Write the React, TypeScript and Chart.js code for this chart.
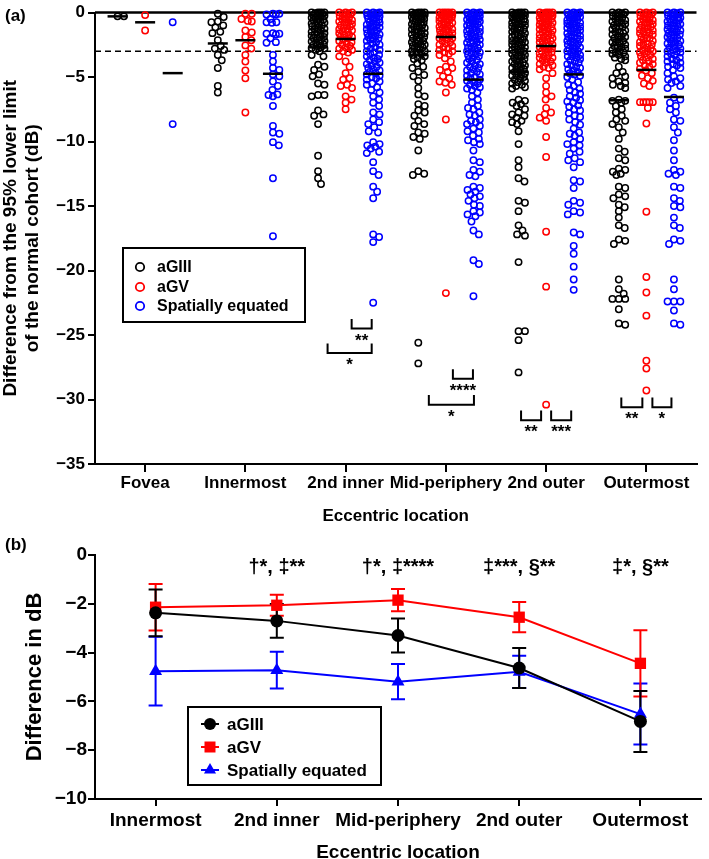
import { useEffect, useRef } from 'react';
import { Chart, registerables } from 'chart.js';
Chart.register(...registerables);

const FONT = '"Liberation Sans", Arial, Helvetica, sans-serif';
const BLACK = '#000000';
const RED = '#ff0000';
const BLUE = '#0000ff';

// ---------- Panel (a) data ----------
const categoriesA = ['Fovea', 'Innermost', '2nd inner', 'Mid-periphery', '2nd outer', 'Outermost'];
const seriesNames = ['aGIII', 'aGV', 'Spatially equated'];

const aGIII_fovea = [-0.3, -0.3];
const aGV_fovea = [-0.2, -1.4];
const se_fovea = [-0.75, -8.65];

const aGIII_innermost = [-0.1, -0.35, -0.7, -0.75, -1.0, -1.15, -1.5, -1.6, -2.15, -2.6, -2.8, -2.9, -3.3, -3.7, -4.3, -5.7, -6.2];
const aGV_innermost = [-0.1, -0.1, -0.5, -0.65, -0.7, -1.4, -1.55, -1.9, -2.15, -2.55, -2.8, -3.3, -3.8, -4.5, -5.1, -7.75];
const se_innermost = [-0.1, -0.1, -0.15, -0.15, -0.5, -0.75, -0.75, -0.8, -1.6, -1.65, -1.65, -1.7, -2.0, -2.3, -2.35, -3.3, -3.8, -4.3, -4.45, -4.8, -4.95, -5.35, -5.7, -6.0, -6.35, -6.4, -6.5, -7.25, -8.8, -9.3, -9.4, -10.05, -10.3, -12.85, -17.35];

const aGIII_inner2 = [0, 0, 0, 0, -0.05, -0.1, -0.1, -0.2, -0.2, -0.25, -0.3, -0.4, -0.4, -0.5, -0.55, -0.6, -0.7, -0.7, -0.8, -0.85, -0.9, -1.0, -1.0, -1.1, -1.2, -1.25, -1.3, -1.4, -1.5, -1.5, -1.6, -1.7, -1.75, -1.8, -1.9, -2.0, -2.0, -2.1, -2.2, -2.25, -2.3, -2.4, -2.5, -2.5, -2.6, -2.7, -2.75, -2.8, -2.9, -3.0,
  -3.3, -3.4, -4.05, -4.2, -4.45, -4.8, -4.95, -5.5, -5.6, -6.4, -6.4, -6.5, -7.6, -7.9, -8.0, -8.65, -11.1, -12.3, -12.85, -13.3];
const aGV_inner2 = [0, 0, 0, -0.05, -0.1, -0.15, -0.2, -0.3, -0.3, -0.4, -0.5, -0.5, -0.6, -0.7, -0.75, -0.8, -0.9, -1.0, -1.0, -1.1, -1.2, -1.3, -1.35, -1.4, -1.5, -1.6, -1.7, -1.8, -1.85, -1.9, -2.0, -2.1, -2.2, -2.3, -2.4, -2.5, -2.6, -2.7, -2.8, -2.9, -3.0, -3.1,
  -3.4, -3.8, -4.2, -4.7, -5.1, -5.2, -5.6, -5.7, -5.85, -6.5, -6.75, -7.0, -7.5];
const se_inner2 = [0, 0, 0, -0.05, -0.1, -0.1, -0.2, -0.25, -0.3, -0.35, -0.4, -0.5, -0.55, -0.6, -0.7, -0.75, -0.8, -0.9, -0.95, -1.0, -1.1, -1.15, -1.2, -1.3, -1.4, -1.45, -1.5, -1.6, -1.7, -1.75, -1.8, -1.9, -2.0, -2.05, -2.1, -2.2, -2.3, -2.4, -2.5, -2.6, -2.7, -2.8, -2.9, -3.0, -3.1, -3.2, -3.3, -3.4, -3.5, -3.6, -3.7, -3.8, -3.9, -4.0, -4.1, -4.2, -4.3, -4.4, -4.5, -4.6, -4.7, -4.8, -4.9, -5.0, -5.1, -5.2, -5.35, -5.5, -5.6, -5.8, -6.0, -6.2,
  -6.5, -6.75, -7.0, -7.25, -7.75, -7.9, -8.3, -8.5, -8.65, -8.9, -9.2, -9.3, -10.05, -10.2, -10.3, -10.4, -10.55, -10.8, -10.9, -11.6, -12.3, -12.6, -13.5, -13.9, -14.4, -17.2, -17.4, -17.8, -22.5];

const aGIII_mid = [0, 0, 0, 0, -0.05, -0.1, -0.1, -0.15, -0.2, -0.2, -0.3, -0.3, -0.35, -0.4, -0.5, -0.5, -0.55, -0.6, -0.7, -0.7, -0.8, -0.8, -0.9, -1.0, -1.0, -1.1, -1.15, -1.2, -1.3, -1.3, -1.4, -1.5, -1.5, -1.6, -1.7, -1.7, -1.8, -1.9, -2.0, -2.0, -2.1, -2.2, -2.2, -2.3, -2.4, -2.5, -2.5, -2.6, -2.7, -2.7, -2.8, -2.9, -3.0, -3.0, -3.1, -3.2, -3.3, -3.4, -3.5, -3.6, -3.7,
  -3.95, -4.2, -4.3, -4.6, -4.85, -4.95, -5.3, -5.85, -6.35, -6.5, -7.1, -7.25, -7.6, -7.75, -8.0, -8.4, -8.65, -8.8, -9.3, -9.4, -9.65, -9.8, -10.7, -12.3, -12.5, -12.6, -25.6, -27.2];
const aGV_mid = [0, 0, 0, 0, 0, -0.05, -0.1, -0.1, -0.15, -0.2, -0.25, -0.3, -0.3, -0.4, -0.4, -0.5, -0.5, -0.6, -0.65, -0.7, -0.8, -0.8, -0.9, -0.95, -1.0, -1.1, -1.1, -1.2, -1.3, -1.3, -1.4, -1.5, -1.5, -1.6, -1.7, -1.75, -1.8, -1.9, -2.0, -2.0, -2.1, -2.2, -2.3, -2.4, -2.5, -2.6, -2.7, -2.8, -2.9, -3.0, -3.1, -3.2, -3.3,
  -3.55, -3.8, -4.2, -4.3, -4.45, -4.6, -4.95, -5.1, -5.35, -5.45, -5.6, -6.2, -8.3, -21.75];
const se_mid = [0, 0, 0, -0.05, -0.1, -0.1, -0.15, -0.2, -0.25, -0.3, -0.3, -0.4, -0.45, -0.5, -0.55, -0.6, -0.7, -0.7, -0.8, -0.85, -0.9, -1.0, -1.0, -1.1, -1.2, -1.25, -1.3, -1.4, -1.45, -1.5, -1.6, -1.7, -1.75, -1.8, -1.9, -2.0, -2.05, -2.1, -2.2, -2.3, -2.35, -2.4, -2.5, -2.6, -2.7, -2.75, -2.8, -2.9, -3.0, -3.1, -3.15, -3.2, -3.3, -3.4, -3.5, -3.6, -3.7, -3.8, -3.9, -4.0, -4.1, -4.2, -4.3, -4.4, -4.5, -4.6, -4.7, -4.8, -4.9, -5.0, -5.1, -5.2, -5.3, -5.4, -5.5, -5.6, -5.7, -5.8, -5.9, -6.0,
  -6.2, -6.5, -6.75, -7.0, -7.25, -7.4, -7.5, -7.75, -7.9, -8.0, -8.3, -8.4, -8.5, -8.65, -8.8, -9.0, -9.2, -9.3, -9.55, -9.8, -9.9, -10.05, -10.2,
  -10.7, -11.45, -11.6, -12.2, -12.35, -12.6, -12.7, -13.5, -13.6, -13.75, -13.9, -14.1, -14.25, -14.4, -14.6, -14.9, -15.0, -15.4, -15.5, -15.65, -15.8, -16.2, -16.9, -17.2, -19.2, -19.5, -22.0];

const aGIII_outer2 = [0, 0, 0, 0, -0.05, -0.1, -0.1, -0.15, -0.2, -0.25, -0.3, -0.3, -0.35, -0.4, -0.5, -0.5, -0.55, -0.6, -0.7, -0.7, -0.75, -0.8, -0.9, -0.9, -1.0, -1.0, -1.1, -1.15, -1.2, -1.3, -1.3, -1.4, -1.5, -1.5, -1.6, -1.7, -1.7, -1.8, -1.9, -1.9, -2.0, -2.1, -2.1, -2.2, -2.3, -2.3, -2.4, -2.5, -2.5, -2.6, -2.7, -2.7, -2.8, -2.9, -2.9, -3.0, -3.1, -3.1, -3.2, -3.3, -3.4, -3.4, -3.5, -3.6, -3.7, -3.7, -3.8, -3.9, -4.0, -4.0, -4.1, -4.2, -4.3, -4.3, -4.4, -4.5, -4.6, -4.6, -4.7, -4.8, -4.9, -4.9, -5.0, -5.1, -5.2, -5.3, -5.4, -5.5, -5.6, -5.7, -5.8, -5.9,
  -6.75, -6.85, -7.0, -7.1, -7.25, -7.5, -7.75, -7.9, -8.0, -8.15, -8.4, -8.5, -8.65, -9.2, -10.2, -11.45, -12.0, -12.85, -13.1, -14.6, -14.75, -15.4, -16.5, -16.9, -17.2, -17.3, -19.35, -24.7, -24.7, -25.4, -27.9];
const aGV_outer2 = [0, 0, 0, 0, -0.05, -0.1, -0.1, -0.15, -0.2, -0.25, -0.3, -0.3, -0.4, -0.45, -0.5, -0.5, -0.6, -0.65, -0.7, -0.8, -0.8, -0.9, -0.95, -1.0, -1.1, -1.1, -1.2, -1.3, -1.3, -1.4, -1.5, -1.5, -1.6, -1.7, -1.7, -1.8, -1.9, -2.0, -2.0, -2.1, -2.2, -2.2, -2.3, -2.4, -2.5, -2.5, -2.6, -2.7, -2.8, -2.8, -2.9, -3.0, -3.1, -3.1, -3.2, -3.3, -3.4, -3.5, -3.5, -3.6, -3.7, -3.8, -3.9, -4.0, -4.1, -4.2, -4.3, -4.4,
  -4.7, -5.1, -5.7, -6.2, -6.5, -6.75, -7.4, -7.75, -7.9, -8.15, -8.4, -9.65, -11.2, -17.0, -21.25, -30.4];
const se_outer2 = [0, 0, 0, -0.05, -0.1, -0.1, -0.15, -0.2, -0.25, -0.3, -0.35, -0.4, -0.4, -0.5, -0.55, -0.6, -0.7, -0.7, -0.8, -0.85, -0.9, -1.0, -1.0, -1.1, -1.2, -1.2, -1.3, -1.4, -1.4, -1.5, -1.6, -1.6, -1.7, -1.8, -1.8, -1.9, -2.0, -2.0, -2.1, -2.2, -2.3, -2.3, -2.4, -2.5, -2.6, -2.6, -2.7, -2.8, -2.9, -3.0, -3.0, -3.1, -3.2, -3.3, -3.4, -3.4, -3.5, -3.6, -3.7, -3.8, -3.9, -4.0, -4.1, -4.2, -4.3, -4.4, -4.5, -4.6, -4.7, -4.8, -4.9, -5.0,
  -5.2, -5.4, -5.6, -5.7, -5.9, -6.0, -6.2, -6.3, -6.5, -6.6, -6.8, -6.9, -7.0, -7.2, -7.3, -7.5, -7.6, -7.8, -8.0, -8.1, -8.3, -8.5, -8.7,
  -9.0, -9.3, -9.4, -9.55, -9.8, -10.05, -10.2, -10.3, -10.55, -10.8, -10.95, -11.3, -11.45, -11.6, -12.0, -13.0, -13.1, -13.6, -14.6, -14.75, -14.9, -15.4, -15.5, -15.65, -17.05, -17.2, -18.1, -18.7, -19.7, -20.7, -21.5];

const aGIII_outermost = [0, 0, 0, -0.05, -0.1, -0.15, -0.2, -0.3, -0.3, -0.4, -0.5, -0.5, -0.6, -0.7, -0.8, -0.8, -0.9, -1.0, -1.1, -1.1, -1.2, -1.3, -1.4, -1.5, -1.5, -1.6, -1.7, -1.8, -1.9, -1.9, -2.0, -2.1, -2.2, -2.3, -2.3, -2.4, -2.5, -2.6, -2.7, -2.7, -2.8, -2.9, -3.0, -3.1, -3.1, -3.2, -3.3, -3.4, -3.5, -3.6, -3.7,
  -4.2, -4.6, -4.7, -4.96, -5.1, -5.34, -5.47, -5.6, -5.7, -5.85, -6.75, -6.85, -6.85, -7.0, -7.25, -7.5, -7.75, -8.0, -8.3, -8.4, -8.65, -8.9, -9.3, -9.8, -10.55, -10.8, -11.3, -11.45, -12.1, -12.2, -12.35, -12.5, -12.6, -13.5, -13.6, -14.1, -14.25, -14.4, -14.9, -15.1, -15.4, -15.9, -16.5, -16.7, -17.6, -17.7, -17.95,
  -20.7, -21.45, -21.8, -22.2, -22.2, -22.2, -23.0, -24.2, -24.1];
const aGV_outermost = [0, 0, 0, -0.05, -0.1, -0.15, -0.2, -0.3, -0.3, -0.4, -0.5, -0.5, -0.6, -0.7, -0.75, -0.8, -0.9, -1.0, -1.0, -1.1, -1.2, -1.3, -1.3, -1.4, -1.5, -1.6, -1.6, -1.7, -1.8, -1.9, -2.0, -2.0, -2.1, -2.2, -2.3, -2.4, -2.5, -2.5, -2.6, -2.7, -2.8, -2.9, -3.0, -3.0, -3.1, -3.2, -3.3, -3.4, -3.5, -3.6, -3.7, -3.8, -3.9, -4.0, -4.1, -4.2, -4.35, -4.5, -4.7, -4.9, -5.1, -5.3, -5.5, -5.7,
  -6.95, -6.95, -6.95, -6.95, -6.95, -7.4, -8.6, -15.45, -20.5, -21.7, -23.5, -27.0, -27.6, -29.3];
const se_outermost = [0, 0, 0, -0.05, -0.1, -0.15, -0.2, -0.25, -0.3, -0.4, -0.4, -0.5, -0.6, -0.6, -0.7, -0.8, -0.85, -0.9, -1.0, -1.0, -1.1, -1.2, -1.25, -1.3, -1.4, -1.5, -1.5, -1.6, -1.7, -1.75, -1.8, -1.9, -2.0, -2.0, -2.1, -2.2, -2.3, -2.4, -2.4, -2.5, -2.6, -2.7, -2.8, -2.9, -3.0, -3.0, -3.1, -3.2, -3.3, -3.4, -3.5, -3.6, -3.7, -3.8, -3.9, -4.0, -4.1, -4.2, -4.3,
  -4.45, -4.7, -4.96, -5.1, -5.2, -5.34, -5.47, -5.7, -5.85, -6.6, -6.75, -7.0, -7.25, -7.5, -7.75, -8.3, -8.4, -8.9, -9.3, -9.9, -10.7, -11.45, -12.2, -12.35, -12.5, -12.6, -13.5, -13.6, -14.4, -14.6, -15.0, -15.1, -15.9, -16.5, -16.7, -17.6, -17.7, -17.95,
  -20.7, -21.45, -22.4, -22.4, -22.4, -23.1, -24.2, -24.1];

const valuesGIII = [aGIII_fovea, aGIII_innermost, aGIII_inner2, aGIII_mid, aGIII_outer2, aGIII_outermost];
const valuesGV = [aGV_fovea, aGV_innermost, aGV_inner2, aGV_mid, aGV_outer2, aGV_outermost];
const valuesSE = [se_fovea, se_innermost, se_inner2, se_mid, se_outer2, se_outermost];

const meanA_GIII = [-0.3, -2.4, -2.7, -3.3, -4.6, -6.8];
const meanA_GV = [-0.76, -2.15, -2.05, -1.9, -2.6, -4.45];
const meanA_SE = [-4.7, -4.75, -4.75, -5.2, -4.8, -6.55];

const yTicksA = [0, -5, -10, -15, -20, -25, -30, -35];

// significance brackets (category units, dB)
const bracketsA = [
  { x1: 2.06, x2: 2.26, y: -24.5, label: '**' },
  { x1: 1.82, x2: 2.26, y: -26.4, label: '*' },
  { x1: 3.07, x2: 3.27, y: -28.4, label: '****' },
  { x1: 2.83, x2: 3.28, y: -30.4, label: '*' },
  { x1: 3.75, x2: 3.95, y: -31.6, label: '**' },
  { x1: 4.05, x2: 4.25, y: -31.6, label: '***' },
  { x1: 4.75, x2: 4.96, y: -30.6, label: '**' },
  { x1: 5.06, x2: 5.25, y: -30.6, label: '*' },
];

// ---------- Panel (b) data ----------
const categoriesB = ['Innermost', '2nd inner', 'Mid-periphery', '2nd outer', 'Outermost'];
const meanB_GIII = [-2.37, -2.7, -3.3, -4.63, -6.82];
const meanB_GV = [-2.14, -2.06, -1.85, -2.55, -4.44];
const meanB_SE = [-4.76, -4.72, -5.19, -4.79, -6.52];
const errB_GIII = [0.96, 0.69, 0.7, 0.82, 1.25];
const errB_GV = [0.95, 0.43, 0.46, 0.62, 1.36];
const errB_SE = [1.41, 0.75, 0.72, 0.66, 1.25];
const sigLabelsB = ['', '†*, ‡**', '†*, ‡****', '‡***, §**', '‡*, §**'];

// ---------- layout helpers ----------
const PX_PER_DB = 459 / 35;
const PX_PER_X = 102;
const GROUP_OFFSET = [-0.275, 0, 0.275];

function swarm(values: number[], center: number) {
  const D = 6.5;
  const MAXH = 6.5;
  const placed: { px: number; py: number }[] = [];
  const out: { x: number; y: number }[] = [];
  const order = values.map((_, i) => i).sort((a, b) => values[b] - values[a]);
  const cands = [0];
  for (let k = 0.5; k <= MAXH + 1e-9; k += 0.5) cands.push(k, -k);
  for (const i of order) {
    const py = -values[i] * PX_PER_DB;
    let best = 0;
    let bestScore = -Infinity;
    for (const c of cands) {
      let minD = Infinity;
      for (const p of placed) {
        const dy = p.py - py;
        if (Math.abs(dy) >= D) continue;
        const d = Math.hypot(p.px - c, dy);
        if (d < minD) minD = d;
      }
      if (minD >= D) { best = c; bestScore = minD; break; }
      if (minD > bestScore + 0.01) { bestScore = minD; best = c; }
    }
    placed.push({ px: best, py });
    out.push({ x: center + best / PX_PER_X, y: values[i] });
  }
  return out;
}

function seriesPoints(groups: number[][], s: number) {
  const pts: { x: number; y: number }[] = [];
  groups.forEach((vals, ci) => {
    pts.push(...swarm(vals, ci + GROUP_OFFSET[s]));
  });
  return pts;
}

function minusFmt(v: number) {
  return v === 0 ? '0' : (v < 0 ? '\u2212' : '') + Math.abs(v);
}

function font(size: number, lh = 1.2) {
  return { family: FONT, size, weight: 'bold' as const, lineHeight: lh };
}

// ---------- plugins ----------
const panelAPlugin = {
  id: 'panelA',
  beforeDatasetsDraw(chart: any) {
    const { ctx, chartArea, scales } = chart;
    const y = scales.y;
    ctx.save();
    ctx.strokeStyle = BLACK;
    ctx.lineWidth = 2.5;
    ctx.beginPath();
    ctx.moveTo(chartArea.left, y.getPixelForValue(0));
    ctx.lineTo(chartArea.right, y.getPixelForValue(0));
    ctx.stroke();
    ctx.lineWidth = 1.5;
    ctx.setLineDash([6, 4]);
    ctx.beginPath();
    ctx.moveTo(chartArea.left, y.getPixelForValue(-3));
    ctx.lineTo(chartArea.right, y.getPixelForValue(-3));
    ctx.stroke();
    ctx.restore();
  },
  afterDraw(chart: any) {
    const { ctx, scales } = chart;
    const x = scales.x;
    const y = scales.y;
    ctx.save();
    ctx.strokeStyle = BLACK;
    ctx.fillStyle = BLACK;
    ctx.lineWidth = 2;
    ctx.font = `bold 17px ${FONT}`;
    ctx.textAlign = 'center';
    ctx.textBaseline = 'alphabetic';
    for (const b of bracketsA) {
      const x1 = x.getPixelForValue(b.x1);
      const x2 = x.getPixelForValue(b.x2);
      const yb = y.getPixelForValue(b.y);
      const yt = y.getPixelForValue(b.y + 0.75);
      ctx.beginPath();
      ctx.moveTo(x1, yt);
      ctx.lineTo(x1, yb);
      ctx.lineTo(x2, yb);
      ctx.lineTo(x2, yt);
      ctx.stroke();
      ctx.fillText(b.label, (x1 + x2) / 2, yb + 17);
    }
    // legend
    ctx.lineWidth = 2;
    ctx.strokeRect(123, 248, 182, 74);
    const cols = [BLACK, RED, BLUE];
    const ys = [267, 287, 306];
    ctx.font = `bold 16px ${FONT}`;
    ctx.textAlign = 'left';
    ctx.textBaseline = 'middle';
    seriesNames.forEach((n, i) => {
      ctx.strokeStyle = cols[i];
      ctx.lineWidth = 1.8;
      ctx.beginPath();
      ctx.arc(140, ys[i], 4.2, 0, Math.PI * 2);
      ctx.stroke();
      ctx.fillStyle = BLACK;
      ctx.fillText(n, 157, ys[i] + 1);
    });
    ctx.font = `bold 17px ${FONT}`;
    ctx.textBaseline = 'alphabetic';
    ctx.fillText('(a)', 5, 21);
    ctx.restore();
  },
};

function drawMarker(ctx: any, style: string, cx: number, cy: number, color: string) {
  ctx.fillStyle = color;
  ctx.beginPath();
  if (style === 'circle') {
    ctx.arc(cx, cy, 6, 0, Math.PI * 2);
  } else if (style === 'rect') {
    ctx.rect(cx - 5.5, cy - 5.5, 11, 11);
  } else {
    const r = 7;
    for (let k = 0; k < 3; k++) {
      const a = -Math.PI / 2 + (k * 2 * Math.PI) / 3;
      const px = cx + Math.cos(a) * r;
      const py = cy + Math.sin(a) * r;
      if (k === 0) ctx.moveTo(px, py); else ctx.lineTo(px, py);
    }
    ctx.closePath();
  }
  ctx.fill();
}

const B_TOP = 25; // chart-area top inside canvas B

const panelBPlugin = {
  id: 'panelB',
  beforeDatasetsDraw(chart: any) {
    const { ctx, scales } = chart;
    const y = scales.y;
    const errs = [errB_GIII, errB_GV, errB_SE];
    const cols = [BLACK, RED, BLUE];
    ctx.save();
    ctx.lineWidth = 2;
    for (let d = 2; d >= 0; d--) {
      const meta = chart.getDatasetMeta(d);
      const ds = chart.data.datasets[d].data as number[];
      ctx.strokeStyle = cols[d];
      meta.data.forEach((el: any, j: number) => {
        const hi = y.getPixelForValue(ds[j] + errs[d][j]);
        const lo = y.getPixelForValue(ds[j] - errs[d][j]);
        ctx.beginPath();
        ctx.moveTo(el.x, hi);
        ctx.lineTo(el.x, lo);
        ctx.moveTo(el.x - 7, hi);
        ctx.lineTo(el.x + 7, hi);
        ctx.moveTo(el.x - 7, lo);
        ctx.lineTo(el.x + 7, lo);
        ctx.stroke();
      });
    }
    ctx.restore();
  },
  afterDraw(chart: any) {
    const { ctx } = chart;
    const o = B_TOP - 15;
    ctx.save();
    ctx.fillStyle = BLACK;
    ctx.font = `bold 20px ${FONT}`;
    ctx.textAlign = 'center';
    ctx.textBaseline = 'middle';
    const meta = chart.getDatasetMeta(0);
    meta.data.forEach((el: any, j: number) => {
      if (sigLabelsB[j]) ctx.fillText(sigLabelsB[j], el.x, 27 + o);
    });
    // legend
    ctx.strokeStyle = BLACK;
    ctx.lineWidth = 2;
    ctx.fillStyle = '#ffffff';
    ctx.fillRect(188, 167 + o, 193, 78);
    ctx.strokeRect(188, 167 + o, 193, 78);
    const cols = [BLACK, RED, BLUE];
    const styles = ['circle', 'rect', 'triangle'];
    const ys = [184 + o, 207 + o, 230 + o];
    ctx.font = `bold 17px ${FONT}`;
    ctx.textAlign = 'left';
    seriesNames.forEach((n, i) => {
      ctx.strokeStyle = cols[i];
      ctx.lineWidth = 2;
      ctx.beginPath();
      ctx.moveTo(201, ys[i]);
      ctx.lineTo(219, ys[i]);
      ctx.stroke();
      drawMarker(ctx, styles[i], 210, ys[i], cols[i]);
      ctx.fillStyle = BLACK;
      ctx.fillText(n, 227, ys[i] + 1);
    });
    ctx.textBaseline = 'alphabetic';
    ctx.fillText('(b)', 5, 20);
    ctx.restore();
  },
};

function makeChartA(canvas: HTMLCanvasElement) {
  const cols = [BLACK, RED, BLUE];
  const groups = [valuesGIII, valuesGV, valuesSE];
  const datasets: any[] = groups.map((g, s) => ({
    label: seriesNames[s],
    data: seriesPoints(g, s),
    pointRadius: 3.2,
    pointBorderWidth: 1.5,
    pointBorderColor: cols[s],
    pointBackgroundColor: 'rgba(0,0,0,0)',
    showLine: false,
    clip: false,
    order: 1,
  }));
  const meanPts: { x: number; y: number }[] = [];
  [meanA_GIII, meanA_GV, meanA_SE].forEach((arr, s) => {
    arr.forEach((m, ci) => meanPts.push({ x: ci + GROUP_OFFSET[s], y: m }));
  });
  datasets.push({
    label: 'mean',
    data: meanPts,
    pointStyle: 'line',
    pointRadius: 10,
    pointBorderWidth: 2.5,
    pointBorderColor: BLACK,
    showLine: false,
    clip: false,
    order: -1,
  });
  return new Chart(canvas, {
    type: 'scatter',
    data: { datasets },
    plugins: [panelAPlugin],
    options: {
      responsive: false,
      animation: false,
      events: [],
      layout: { padding: { left: 0, right: 2, top: 5, bottom: 0 } },
      plugins: { legend: { display: false }, tooltip: { enabled: false } },
      scales: {
        x: {
          type: 'linear',
          min: -0.5,
          max: 5.5,
          afterBuildTicks: (s: any) => { s.ticks = categoriesA.map((_, i) => ({ value: i })); },
          afterFit: (s: any) => { s.height = 66; s.paddingLeft = 0; s.paddingRight = 0; },
          ticks: {
            color: BLACK,
            font: font(17),
            padding: 1,
            maxRotation: 0,
            autoSkip: false,
            callback: (v: any) => categoriesA[Math.round(v)] ?? '',
          },
          grid: { display: true, drawOnChartArea: false, drawTicks: true, tickLength: 8, color: BLACK, lineWidth: 2 },
          border: { display: true, color: BLACK, width: 2 },
          title: { display: true, text: 'Eccentric location', color: BLACK, font: font(17), padding: { top: 0, bottom: 3 } },
        },
        y: {
          type: 'linear',
          min: -35,
          max: 0,
          afterBuildTicks: (s: any) => { s.ticks = yTicksA.map((v) => ({ value: v })); },
          afterFit: (s: any) => { s.width = 95; s.paddingTop = 0; s.paddingBottom = 0; },
          ticks: { color: BLACK, font: font(17), padding: 3, callback: (v: any) => minusFmt(v) },
          grid: { display: true, drawOnChartArea: false, drawTicks: true, tickLength: 7, color: BLACK, lineWidth: 2 },
          border: { display: true, color: BLACK, width: 2 },
          title: {
            display: true,
            text: ['Difference from the 95% lower limit', 'of the normal cohort (dB)'],
            color: BLACK,
            font: font(19, 1.15),
            padding: { top: 0, bottom: 0 },
          },
        },
      },
    } as any,
  });
}

function makeChartB(canvas: HTMLCanvasElement) {
  const mk = (label: string, data: number[], color: string, style: string, radius: number) => ({
    label,
    data,
    borderColor: color,
    backgroundColor: color,
    pointBackgroundColor: color,
    pointBorderColor: color,
    pointStyle: style,
    pointRadius: radius,
    pointBorderWidth: 0,
    borderWidth: 2,
    tension: 0,
    fill: false,
    clip: false,
  });
  return new Chart(canvas, {
    type: 'line',
    data: {
      labels: categoriesB,
      datasets: [
        mk('aGIII', meanB_GIII, BLACK, 'circle', 6.5),
        mk('aGV', meanB_GV, RED, 'rect', 8),
        mk('Spatially equated', meanB_SE, BLUE, 'triangle', 7.5),
      ],
    },
    plugins: [panelBPlugin],
    options: {
      responsive: false,
      animation: false,
      events: [],
      layout: { padding: { left: 0, right: 5, top: B_TOP, bottom: 0 } },
      plugins: { legend: { display: false }, tooltip: { enabled: false } },
      scales: {
        x: {
          type: 'category',
          offset: true,
          afterFit: (s: any) => { s.height = 60; s.paddingLeft = 0; s.paddingRight = 0; },
          ticks: { color: BLACK, font: font(19), padding: 3, maxRotation: 0, autoSkip: false },
          grid: { display: true, offset: false, drawOnChartArea: false, drawTicks: true, tickLength: 7, color: BLACK, lineWidth: 2 },
          border: { display: true, color: BLACK, width: 2 },
          title: { display: true, text: 'Eccentric location', color: BLACK, font: font(19), padding: { top: 0, bottom: -5 } },
        },
        y: {
          type: 'linear',
          min: -10,
          max: 0,
          ticks: { stepSize: 2, color: BLACK, font: font(19), padding: 1, callback: (v: any) => minusFmt(v) },
          afterFit: (s: any) => { s.width = 95; s.paddingTop = 0; s.paddingBottom = 0; },
          grid: { display: true, drawOnChartArea: false, drawTicks: true, tickLength: 7, color: BLACK, lineWidth: 2 },
          border: { display: true, color: BLACK, width: 2 },
          title: { display: true, text: 'Difference in dB', color: BLACK, font: font(22), padding: { top: 22, bottom: 0 } },
        },
      },
    } as any,
  });
}

export default function App() {
  const refA = useRef<HTMLCanvasElement>(null);
  const refB = useRef<HTMLCanvasElement>(null);
  useEffect(() => {
    document.body.style.margin = '0';
    document.body.style.background = '#ffffff';
    Chart.defaults.font.family = FONT;
    const a = makeChartA(refA.current!);
    const b = makeChartB(refB.current!);
    return () => { a.destroy(); b.destroy(); };
  }, []);
  return (
    <div style={{ width: 709, height: 859, background: '#fff' }}>
      <canvas ref={refA} width={709} height={530} style={{ display: 'block', width: 709, height: 530 }} />
      <canvas ref={refB} width={709} height={329} style={{ display: 'block', width: 709, height: 329 }} />
    </div>
  );
}
